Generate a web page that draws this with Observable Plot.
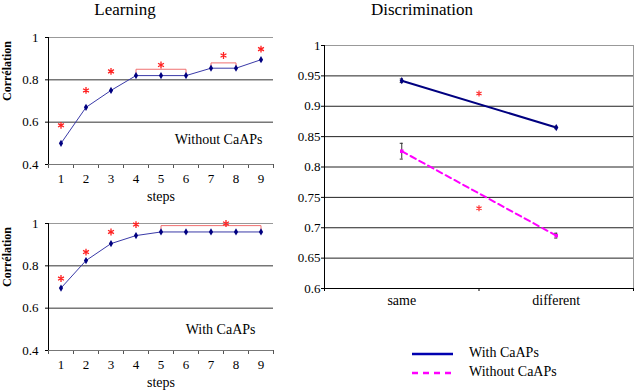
<!DOCTYPE html>
<html><head><meta charset="utf-8">
<script src="https://cdn.jsdelivr.net/npm/d3@7"></script>
<script src="https://cdn.jsdelivr.net/npm/@observablehq/plot@0.6"></script>
<style>
body{margin:0;background:#fff;}
#c{position:relative;width:640px;height:390px;font-family:"Liberation Serif",serif;color:#000;overflow:hidden;}
#c svg text{font-family:"Liberation Serif",serif !important;}
.abs{position:absolute;white-space:nowrap;font-family:"Liberation Serif",serif;}
</style></head><body><div id="c"></div>
<script>
// ---- Learning data ----
const steps = [1,2,3,4,5,6,7,8,9];
const learnWithout = [0.50,0.67,0.75,0.82,0.82,0.82,0.855,0.855,0.895];
const learnWith = [0.695,0.825,0.905,0.943,0.96,0.96,0.96,0.96,0.96];
const starsWithoutX = [1,2,3,5,7.5,9];
const starsWithoutY = [0.585,0.75,0.84,0.87,0.915,0.945];
const bracketsWithout = [[4,6,0.85],[7,8,0.88]];
const starsWithX = [1,2,3,4,7.6];
const starsWithY = [0.74,0.865,0.96,0.995,1.0];
const bracketsWith = [[5,9,0.99]];
const learnTicksY = [0.4,0.6,0.8,1];
// ---- Discrimination data ----
const conditions = ["same","different"];
const discWith = [0.942,0.865];
const discWithErr = [0.003,0.002];
const discWithout = [0.826,0.687];
const discWithoutErr = [0.013,0.004];
const discStarsY = [0.921,0.732];
const discTicksY = [0.6,0.65,0.7,0.75,0.8,0.85,0.9,0.95,1];

const FF = "Liberation Serif";
const c = document.getElementById("c");
const baseStyle = {fontSize:"13px", background:"transparent", overflow:"visible"};

function place(el, left, top){ el.style.position="absolute"; el.style.left=left+"px"; el.style.top=top+"px"; c.appendChild(el); }
function textDiv(txt, left, top, size, extra){
  const d=document.createElement("div"); d.className="abs"; d.textContent=txt;
  d.style.left=left+"px"; d.style.top=top+"px"; d.style.fontSize=size+"px"; d.style.lineHeight=size+"px";
  if(extra) Object.assign(d.style, extra);
  c.appendChild(d); return d;
}

function learning(values, starsX, starsY, brackets, label, ldx, ldy){
  const drop = 0.018;
  const pts = steps.map((s,i)=>({x:s,y:values[i]}));
  const stars = starsX.map((x,i)=>({x, y:starsY[i]}));
  const br = brackets.flatMap(([a,b,y],k)=>[{k,x:a,y:y-drop},{k,x:a,y},{k,x:b,y},{k,x:b,y:y-drop}]);
  return Plot.plot({
    width:290, height:205, marginLeft:48, marginRight:17, marginTop:37, marginBottom:41,
    x:{domain:[0.5,9.5], label:null}, y:{domain:[0.4,1], label:null},
    style: baseStyle,
    marks:[
      Plot.ruleY([0.6,0.8],{stroke:"#333"}),
      Plot.ruleY([1],{stroke:"#999"}),
      Plot.axisX({ticks:d3.range(0.5,10,1), tickSize:4, tickFormat:()=>"", stroke:"#555"}),
      Plot.axisX({ticks:steps, tickSize:0, tickPadding:9, fontFamily:FF, fontSize:13, tickFormat:d=>String(d)}),
      Plot.ruleY([0.4],{stroke:"#777"}),
      Plot.axisY({ticks:learnTicksY, tickSize:3, tickPadding:7, fontFamily:FF, fontSize:13, tickFormat:d=>String(d)}),
      Plot.ruleX([0.5],{stroke:"#000"}),
      Plot.line(br,{x:"x",y:"y",z:"k",stroke:"#f07070",strokeWidth:1}),
      Plot.line(pts,{x:"x",y:"y",stroke:"#3a3aa8",strokeWidth:1}),
      Plot.dot(pts,{x:"x",y:"y",symbol:"diamond",r:2.2,fill:"#000080"}),
      Plot.dot(stars,{x:"x",y:"y",symbol:"asterisk",r:3.2,stroke:"#ff2020",strokeWidth:1.3}),
      Plot.text([label],{frameAnchor:"bottom-right", dx:ldx, dy:ldy, fontSize:14, fontFamily:FF}),
      Plot.text(["steps"],{frameAnchor:"bottom", dy:36, fontSize:14, fontFamily:FF}),
      Plot.text(["Corrélation"],{frameAnchor:"left", dx:-41, rotate:-90, fontSize:12, fontWeight:"bold", fontFamily:FF})
    ]
  });
}

place(learning(learnWithout, starsWithoutX, starsWithoutY, bracketsWithout, "Without CaAPs", -11, -21), 0, 0);
place(learning(learnWith, starsWithX, starsWithY, bracketsWith, "With CaAPs", -18, -17), 0, 186);

// Discrimination
const wPts = conditions.map((k,i)=>({x:i+1, y:discWith[i], e:discWithErr[i]}));
const woPts = conditions.map((k,i)=>({x:i+1, y:discWithout[i], e:discWithoutErr[i]}));
const errs = [...wPts, ...woPts];
const cap = 0.01;
const disc = Plot.plot({
  width:360, height:320, marginLeft:44, marginRight:7, marginTop:45, marginBottom:32,
  x:{domain:[0.5,2.5], label:null}, y:{domain:[0.6,1], label:null},
  style: baseStyle,
  marks:[
    Plot.ruleY(discTicksY.filter(v=>v>0.6 && v<1),{stroke:"#222"}),
    Plot.ruleY([1],{stroke:"#999"}),
    Plot.ruleX([2.5],{stroke:"#999"}),
    Plot.axisY({ticks:discTicksY, tickSize:3, tickPadding:1, fontFamily:FF, fontSize:13, tickFormat:d=>String(+d.toFixed(2))}),
    Plot.axisX({ticks:[1,2], tickSize:0, tickPadding:7, fontFamily:FF, fontSize:14, tickFormat:i=>conditions[i-1]}),
    Plot.axisX({ticks:[0.5,1.5,2.5], tickSize:3, tickFormat:()=>""}),
    Plot.ruleY([0.6],{stroke:"#000"}),
    Plot.ruleX([0.5],{stroke:"#000"}),
    Plot.line(wPts,{x:"x",y:"y",stroke:"#000080",strokeWidth:2}),
    Plot.line(woPts,{x:"x",y:"y",stroke:"#ff00ff",strokeWidth:2,strokeDasharray:"6,4"}),
    Plot.ruleX(errs,{x:"x",y1:d=>d.y-d.e,y2:d=>d.y+d.e,stroke:"#333",strokeWidth:1}),
    Plot.ruleY(errs,{y:d=>d.y-d.e,x1:d=>d.x-cap,x2:d=>d.x+cap,stroke:"#333",strokeWidth:1}),
    Plot.ruleY(errs,{y:d=>d.y+d.e,x1:d=>d.x-cap,x2:d=>d.x+cap,stroke:"#333",strokeWidth:1}),
    Plot.dot(wPts,{x:"x",y:"y",symbol:"diamond",r:2.2,fill:"#000080"}),
    Plot.dot(woPts,{x:"x",y:"y",symbol:"square",r:2,fill:"#ff00ff"}),
    Plot.dot(discStarsY.map(y=>({x:1.5,y})),{x:"x",y:"y",symbol:"asterisk",r:2.8,stroke:"#ff3030",strokeWidth:1.2})
  ]
});
place(disc, 280, 0);

// Titles
textDiv("Learning", 0, 1, 17, {width:"250px", textAlign:"center"});
textDiv("Discrimination", 322, 1, 17, {width:"200px", textAlign:"center"});

// Legend
const ns="http://www.w3.org/2000/svg";
const lg=document.createElementNS(ns,"svg");
lg.setAttribute("width","50"); lg.setAttribute("height","30");
lg.innerHTML='<line x1="4" x2="45" y1="6" y2="6" stroke="#0000b0" stroke-width="2.5"/>'+
  '<line x1="4" x2="45" y1="25" y2="25" stroke="#ff00ff" stroke-width="2.5" stroke-dasharray="6,5"/>';
place(lg, 408, 348);
textDiv("With CaAPs", 469, 346, 14);
textDiv("Without CaAPs", 469, 365, 14);
</script></body></html>
